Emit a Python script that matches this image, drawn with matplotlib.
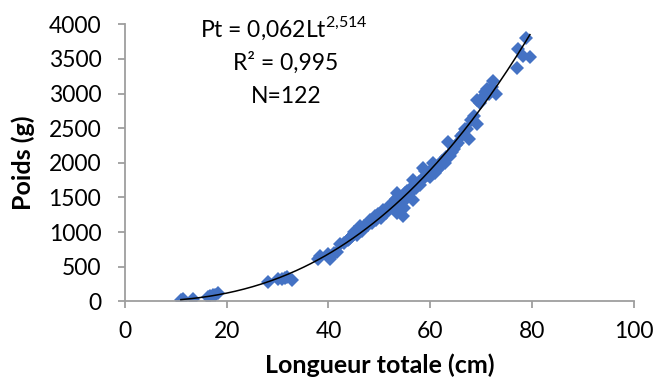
import numpy as np
import matplotlib
matplotlib.use("Agg")
import matplotlib.pyplot as plt

# longueur totale (cm) et poids (g)
longueur = [11.0, 11.5, 13.4, 16.3, 16.8, 17.3, 17.8, 18.3,
            28.2, 30.1, 30.8, 31.5, 31.8, 32.8,
            38.0, 38.3, 40.0, 40.3, 41.0, 41.6, 42.3,
            43.0, 43.8, 44.0, 44.2, 44.6, 44.9, 45.0, 45.3, 45.6, 45.9,
            46.0, 46.2, 46.5, 46.8, 47.0, 47.2, 47.5, 47.8, 48.0, 48.2,
            48.6, 49.0, 49.2, 49.4, 49.8, 50.1, 50.4, 50.7, 50.9, 51.0,
            51.4, 51.8, 52.0, 52.2, 52.6, 53.0, 53.2, 53.4, 53.4, 53.7,
            54.0, 54.3, 54.7, 54.9, 55.0, 55.2, 55.5, 55.8, 56.1, 56.6,
            56.6, 57.0, 57.2, 57.4, 57.8, 58.0, 58.3, 58.6, 58.9, 59.0,
            59.3, 59.7, 60.0, 60.3, 60.6, 60.9, 61.0, 61.3, 61.7, 62.0,
            62.4, 62.9, 63.2, 63.5, 63.8, 64.2, 64.6, 65.0, 65.4, 66.0,
            66.5, 66.9, 67.2, 67.7, 68.1, 68.6, 69.1, 69.2, 69.8, 70.3,
            70.8, 71.1, 71.6, 72.1, 72.4, 73.0,
            77.0, 77.3, 78.2, 78.8, 79.6]
poids = [25, 30, 40, 70, 80, 95, 90, 120,
         275, 330, 320, 340, 360, 305,
         610, 650, 680, 610, 700, 720, 825,
         850, 880, 900, 920, 950, 965, 1000, 1000, 960, 1040,
         1000, 1085, 1020, 1060, 1090, 1080, 1120, 1100, 1150, 1180,
         1130, 1200, 1230, 1170, 1260, 1230, 1210, 1325, 1260, 1300,
         1280, 1360, 1330, 1390, 1420, 1460, 1480, 1565, 1280, 1400,
         1450, 1500, 1230, 1350, 1560, 1480, 1600, 1550, 1620, 1750,
         1470, 1650, 1640, 1700, 1720, 1680, 1760, 1925, 1800, 1880,
         1830, 1870, 1790, 1900, 1995, 1850, 1930, 1900, 1960, 1940,
         2030, 1995, 2080, 2300, 2100, 2160, 2200, 2250, 2280, 2380,
         2420, 2490, 2490, 2350, 2620, 2680, 2565, 2900, 2870, 2950,
         3020, 3065, 3000, 3100, 3180, 3000,
         3370, 3640, 3540, 3800, 3525]

x_ticks = [0, 20, 40, 60, 80, 100]
y_ticks = [0, 500, 1000, 1500, 2000, 2500, 3000, 3500, 4000]

equation = "Pt = 0,062Lt$^{\\mathregular{2{,}514}}$"
r2_text = "R² = 0,995"
n_text = "N=122"

plt.rcParams['font.family'] = ['Lato', 'DejaVu Sans']

fig = plt.figure(figsize=(6.54, 3.90), dpi=100)
ax = fig.add_axes([0.191, 0.227, 0.778, 0.711])

ax.plot(longueur, poids, linestyle='none', marker='D', markersize=6.8,
        color='#4472C4', markeredgewidth=0, zorder=2)

# courbe de tendance puissance (ajustement log-log comme Excel)
b, log_a = np.polyfit(np.log(longueur), np.log(poids), 1)
xs = np.linspace(min(longueur), max(longueur), 200)
ax.plot(xs, np.exp(log_a) * xs ** b, color='black', linewidth=1.1, zorder=3)

ax.set_xlim(0, 100)
ax.set_ylim(0, 4000)
ax.set_xticks(x_ticks)
ax.set_yticks(y_ticks)

for side in ['top', 'right']:
    ax.spines[side].set_visible(False)
for side in ['left', 'bottom']:
    ax.spines[side].set_color('#9e9e9e')
    ax.spines[side].set_linewidth(1.3)

ax.tick_params(axis='both', direction='out', length=5, width=1.3,
               color='#9e9e9e', labelsize=16.5, labelcolor='black')
ax.tick_params(axis='y', pad=12)
ax.tick_params(axis='x', pad=9)

ax.set_xlabel("Longueur totale (cm)", fontsize=18, fontweight='bold', labelpad=8)
ax.set_ylabel("Poids (g)", fontsize=18, fontweight='bold', labelpad=10)

ax.text(31.3, 3935, equation, ha='center', va='center', fontsize=16.5)
ax.text(31.6, 3440, r2_text, ha='center', va='center', fontsize=16.5)
ax.text(31.6, 2950, n_text, ha='center', va='center', fontsize=16.5)

fig.savefig("out.png", dpi=100)
